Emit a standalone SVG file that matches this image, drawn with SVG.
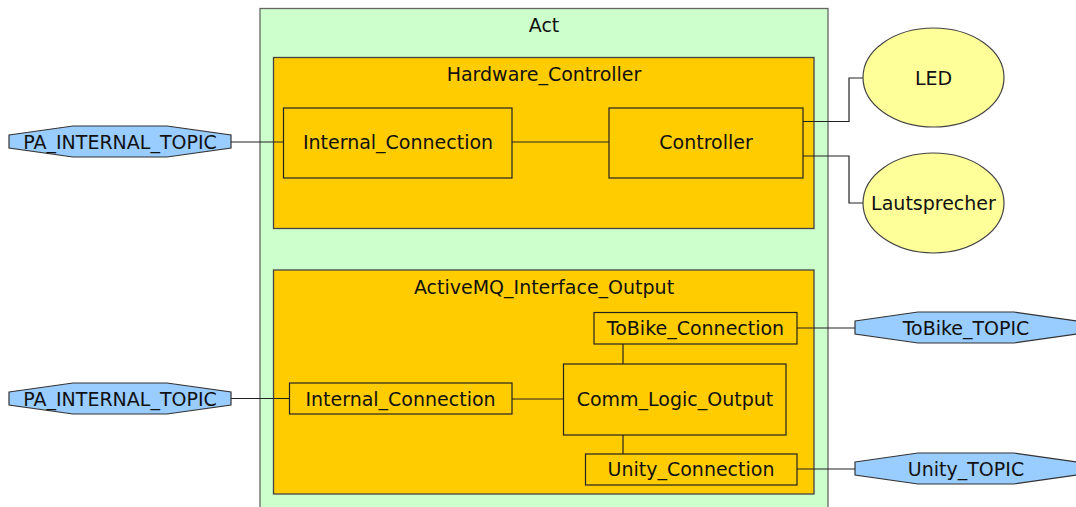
<svg xmlns="http://www.w3.org/2000/svg" width="1076" height="507" viewBox="0 0 1076 507">
<style>
text{font-family:"DejaVu Sans","Liberation Sans",sans-serif;font-size:19px;fill:#111;text-anchor:middle}
.act{fill:#ccffcc;stroke:#666;stroke-width:1.3}
.cl{fill:#ffcc00;stroke:#444;stroke-width:1.3}
.box{fill:#ffcc00;stroke:#222;stroke-width:1.2}
.ell{fill:#ffff99;stroke:#444;stroke-width:1.2}
.topic{fill:#99ccff;stroke:#333;stroke-width:1.2}
.edge{fill:none;stroke:#222;stroke-width:1.2}
</style>
<g id="Act">
<rect class="act" x="260" y="8.5" width="568" height="510"/>
<text x="544" y="32">Act</text>
</g>
<g id="Hardware_Controller">
<rect class="cl" x="273.5" y="57.5" width="540.5" height="171"/>
<text x="544" y="81">Hardware_Controller</text>
</g>
<g id="ActiveMQ_Interface_Output">
<rect class="cl" x="273.5" y="270" width="540.5" height="224"/>
<text x="544" y="293.5">ActiveMQ_Interface_Output</text>
</g>
<g id="edges">
<path class="edge" d="M231,142H283"/>
<path class="edge" d="M512,142H609"/>
<path class="edge" d="M803,121.5H849V78H863"/>
<path class="edge" d="M803,156H849V203H863"/>
<path class="edge" d="M231,398.5H289"/>
<path class="edge" d="M512,399H563"/>
<path class="edge" d="M623,344V364"/>
<path class="edge" d="M623,435V454"/>
<path class="edge" d="M797,328H855"/>
<path class="edge" d="M797,469H855"/>
</g>
<g id="HW_Internal_Connection">
<rect class="box" x="283.5" y="108" width="228.5" height="70"/>
<text x="398" y="149">Internal_Connection</text>
</g>
<g id="Controller">
<rect class="box" x="609" y="108" width="194" height="70"/>
<text x="706" y="149">Controller</text>
</g>
<g id="MQ_Internal_Connection">
<rect class="box" x="289.5" y="383" width="222.5" height="31"/>
<text x="400.5" y="405.5">Internal_Connection</text>
</g>
<g id="Comm_Logic_Output">
<rect class="box" x="563.5" y="364" width="222.5" height="71"/>
<text x="675" y="406">Comm_Logic_Output</text>
</g>
<g id="ToBike_Connection">
<rect class="box" x="594" y="312.5" width="203" height="31.5"/>
<text x="695.5" y="335">ToBike_Connection</text>
</g>
<g id="Unity_Connection">
<rect class="box" x="585.5" y="454" width="211.5" height="31"/>
<text x="691" y="476">Unity_Connection</text>
</g>
<g id="LED">
<ellipse class="ell" cx="933.5" cy="77.5" rx="70.5" ry="49.5"/>
<text x="933.5" y="84.5">LED</text>
</g>
<g id="Lautsprecher">
<ellipse class="ell" cx="933.5" cy="203" rx="70.5" ry="50"/>
<text x="933.5" y="210">Lautsprecher</text>
</g>
<g id="PA_INTERNAL_TOPIC_1">
<polygon class="topic" points="9,135 73,126 167,126 231,135 231,148 167,157 73,157 9,148"/>
<text x="120" y="148.5">PA_INTERNAL_TOPIC</text>
</g>
<g id="PA_INTERNAL_TOPIC_2">
<polygon class="topic" points="9,392 73,383 167,383 231,392 231,405 167,414 73,414 9,405"/>
<text x="120" y="405.5">PA_INTERNAL_TOPIC</text>
</g>
<g id="ToBike_TOPIC">
<polygon class="topic" points="855,321 918,312 1014,312 1077,321 1077,334 1014,343 918,343 855,334"/>
<text x="966" y="335">ToBike_TOPIC</text>
</g>
<g id="Unity_TOPIC">
<polygon class="topic" points="855,462 918,453 1014,453 1077,462 1077,475 1014,484 918,484 855,475"/>
<text x="966" y="476">Unity_TOPIC</text>
</g>
</svg>
